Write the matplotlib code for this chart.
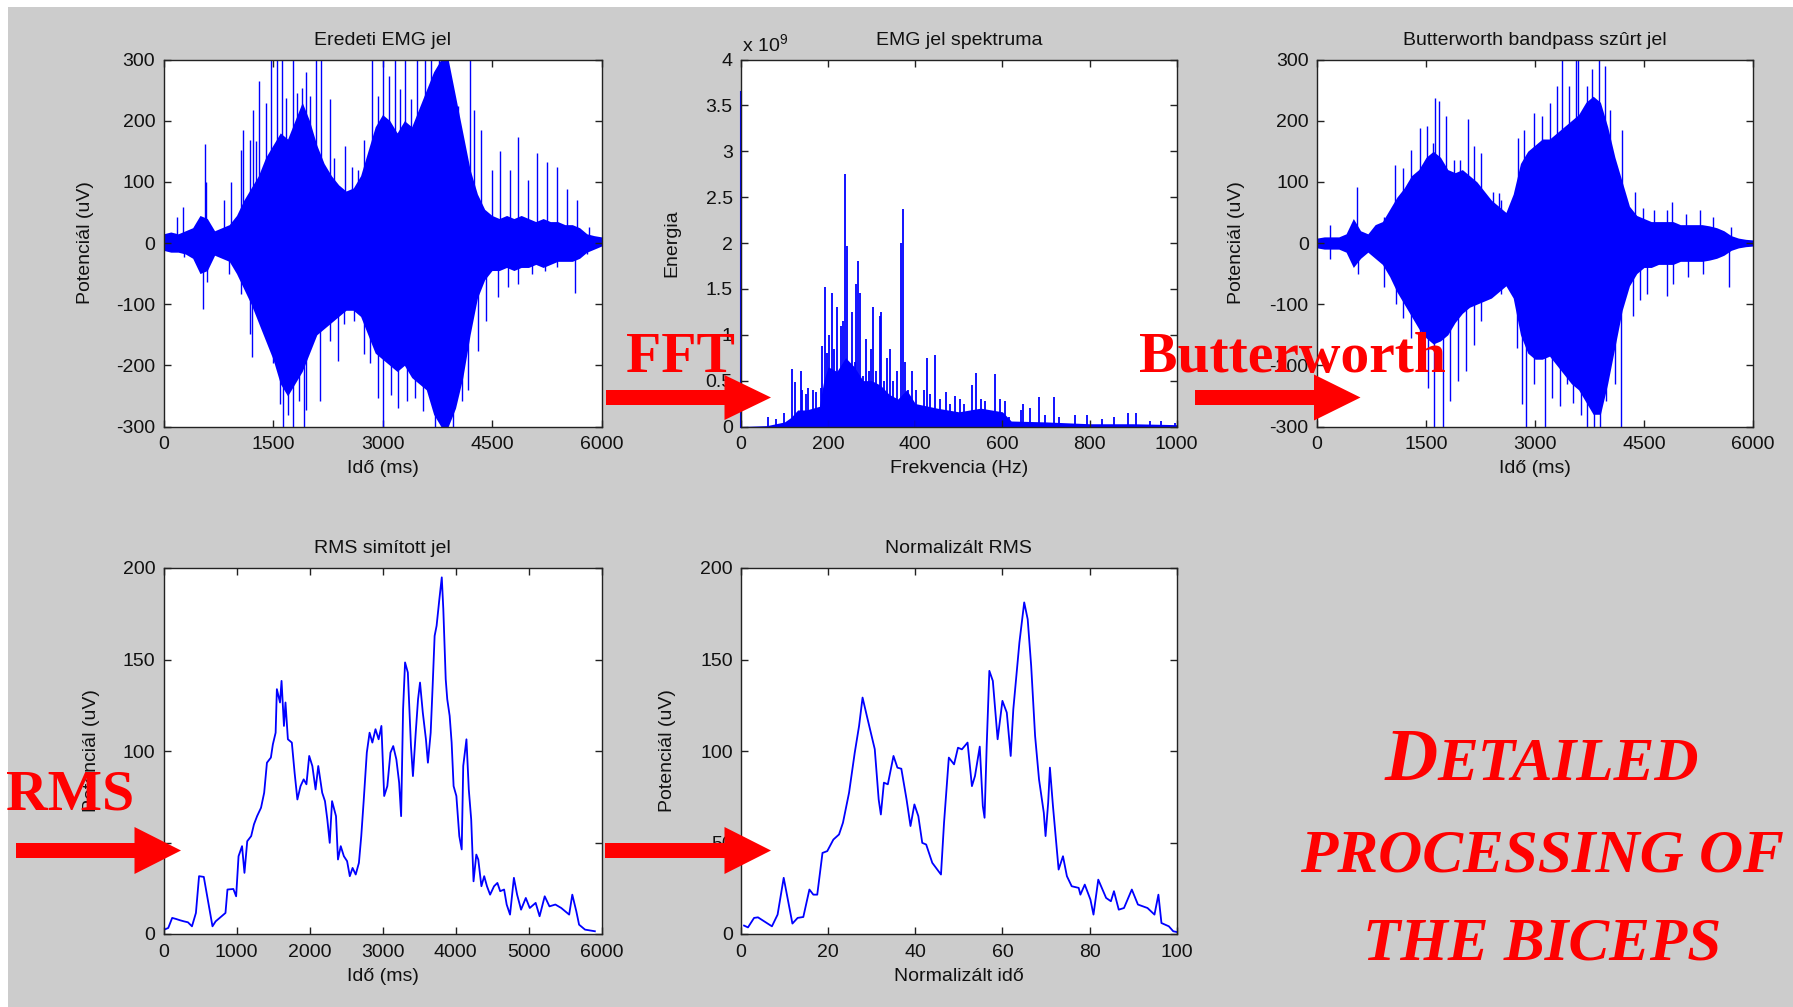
import matplotlib
matplotlib.use("Agg")
import matplotlib.pyplot as plt
from matplotlib.patches import Rectangle, Polygon
from matplotlib import font_manager
from matplotlib.ticker import FuncFormatter

# ---------------- DATA ----------------
# Raw EMG (Eredeti EMG jel): dense core envelope every 100 ms + individual spikes
emg_core_t = list(range(0, 6001, 100))
tl_core_hi = [15, 18, 15, 20, 25, 45, 40, 20, 25, 30, 45, 70, 90, 110, 140, 160, 180, 170, 200, 230,
              200, 160, 130, 110, 95, 85, 90, 110, 150, 190, 210, 200, 180, 200, 190, 220, 250, 280,
              300, 300, 240, 180, 120, 80, 55, 45, 40, 45, 40, 45, 40, 35, 40, 35, 35, 30, 30, 25,
              15, 12, 10]
tl_core_lo = [-12, -15, -15, -18, -25, -50, -45, -20, -25, -30, -50, -75, -100, -130, -160, -190,
              -230, -250, -230, -210, -180, -150, -140, -130, -120, -110, -110, -120, -150, -180,
              -190, -200, -210, -200, -220, -230, -240, -280, -300, -300, -270, -220, -150, -90,
              -60, -45, -45, -40, -45, -40, -40, -35, -40, -35, -30, -30, -30, -25, -15, -10, -5]
tl_spike_t = [184, 265, 563, 579, 822, 920, 1055, 1087, 1185, 1228, 1271, 1315, 1401, 1477, 1553, 1617,
              1672, 1769, 1834, 1904, 1947, 2002, 2094, 2159, 2283, 2337, 2483, 2581, 2662, 2743,
              2851, 2932, 3003, 3095, 3176, 3241, 3311, 3392, 3473, 3581, 3662, 3771, 3879, 4041,
              4193, 4258, 4355, 4501, 4609, 4745, 4853, 4988, 5123, 5258, 5394, 5529, 5664, 5827,
              281, 536, 595, 903, 1066, 1185, 1217, 1336, 1499, 1591, 1634, 1704, 1780, 1850, 1920,
              1958, 2148, 2283, 2391, 2472, 2608, 2743, 2824, 2932, 3003, 3122, 3219, 3338, 3446,
              3554, 3608, 3717, 3825, 3960, 4085, 4177, 4312, 4420, 4582, 4717, 4853, 5042, 5231,
              5394, 5637, 5800]
tl_spike_v = [43, 59, 162, 100, 70, 99, 152, 185, 169, 218, 166, 265, 229, 300, 300, 300,
              237, 300, 246, 254, 279, 240, 300, 300, 235, 139, 158, 125, 120, 169,
              300, 240, 300, 273, 300, 251, 300, 235, 300, 300, 300, 300, 300, 224,
              300, 218, 185, 120, 150, 120, 174, 103, 147, 133, 125, 89, 70, 26,
              -23, -108, -64, -50, -83, -149, -186, -127, -196, -264, -300, -281, -300, -259, -300,
              -273, -259, -160, -193, -133, -127, -182, -196, -253, -300, -248, -270, -259, -253,
              -275, -226, -300, -300, -300, -259, -240, -177, -127, -89, -72, -67, -50, -45,
              -40, -81, -18]

# FFT spectrum (EMG jel spektruma), energy in units of 1e9
fft_dc_f = [0, 0]
fft_dc_e = [0, 3.65]
fft_band_f = [0, 60, 100, 115, 130, 150, 180, 190, 200, 220, 240, 260, 280, 300, 320, 340, 360,
              380, 400, 450, 500, 550, 600, 620, 700, 800, 900, 1000]
fft_band_e = [0, 0.01, 0.05, 0.1, 0.18, 0.18, 0.22, 0.5, 0.65, 0.6, 0.75, 0.65, 0.5, 0.5, 0.45,
              0.35, 0.3, 0.4, 0.25, 0.2, 0.16, 0.2, 0.16, 0.06, 0.05, 0.03, 0.03, 0.02]
fft_peak_f = [62, 80, 98, 118, 123, 137, 141, 150, 154, 166, 173, 183, 187, 193, 198, 202, 210, 214,
              221, 225, 230, 233, 239, 243, 248, 254, 262, 264, 269, 273, 279, 286, 293, 299, 304,
              309, 318, 321, 328, 336, 343, 350, 357, 368, 371, 376, 384, 393, 402, 419, 428, 434,
              446, 457, 470, 480, 491, 502, 511, 530, 540, 550, 561, 582, 595, 607, 616, 643, 648,
              664, 684, 698, 718, 729, 766, 793, 829, 856, 888, 906, 938, 965, 997]
fft_peak_e = [0.1, 0.08, 0.15, 0.63, 0.48, 0.6, 0.4, 0.35, 0.42, 0.4, 0.38, 0.42, 0.88, 1.52, 0.8,
              1.0, 1.45, 0.85, 1.3, 0.6, 1.1, 1.15, 2.75, 1.97, 0.65, 1.25, 0.7, 1.55, 1.8, 1.45,
              0.55, 0.95, 0.6, 0.85, 1.3, 0.6, 1.2, 1.25, 0.5, 0.75, 0.85, 0.5, 0.6, 2.0, 2.37,
              0.7, 0.4, 0.6, 0.4, 0.4, 0.75, 0.35, 0.78, 0.3, 0.38, 0.25, 0.33, 0.3, 0.25, 0.45,
              0.58, 0.3, 0.28, 0.57, 0.3, 0.28, 0.1, 0.18, 0.25, 0.2, 0.32, 0.12, 0.32, 0.1, 0.12,
              0.12, 0.08, 0.1, 0.15, 0.15, 0.06, 0.06, 0.04]

# Butterworth bandpass filtered signal: core envelope every 100 ms + spikes
tr_core_hi = [8, 10, 10, 10, 15, 40, 20, 15, 30, 35, 55, 75, 90, 110, 120, 140, 150, 140, 120, 115,
              120, 110, 100, 85, 70, 60, 50, 80, 130, 150, 160, 170, 170, 180, 190, 200, 210, 230,
              240, 230, 190, 140, 100, 60, 45, 40, 35, 35, 35, 35, 30, 30, 30, 30, 28, 25, 20, 12,
              8, 6, 5]
tr_core_lo = [-8, -10, -10, -10, -15, -40, -25, -15, -25, -35, -55, -80, -100, -120, -140, -155,
              -165, -160, -150, -130, -115, -105, -100, -95, -90, -80, -70, -90, -150, -180, -190,
              -190, -185, -200, -215, -230, -240, -260, -280, -280, -230, -170, -110, -70, -50,
              -40, -40, -35, -35, -35, -30, -30, -30, -30, -28, -25, -20, -12, -8, -6, -5]
tr_spike_t = [177, 547, 922, 1072, 1180, 1298, 1416, 1512, 1593, 1619, 1673, 1780, 1887, 1968, 2075,
              2166, 2252, 2424, 2504, 2531, 2772, 2853, 2987, 3094, 3201, 3308, 3378, 3469, 3560,
              3592, 3710, 3791, 3882, 3968, 4032, 4193, 4381, 4488, 4633, 4810, 4890, 5078, 5276,
              5453, 5694,
              182, 558, 922, 1083, 1180, 1298, 1416, 1523, 1609, 1737, 1834, 1941, 2048, 2156, 2263,
              2381, 2531, 2756, 2826, 2879, 2987, 3131, 3228, 3346, 3442, 3523, 3630, 3721, 3818,
              3898, 3979, 4097, 4182, 4354, 4450, 4542, 4810, 4901, 5105, 5308, 5668]
tr_spike_v = [29, 92, 43, 128, 122, 152, 188, 191, 163, 237, 232, 207, 136, 136, 202,
              158, 147, 84, 81, 70, 172, 185, 213, 207, 229, 257, 300, 257, 300,
              300, 257, 284, 300, 290, 218, 185, 84, 57, 54, 54, 67, 48, 54,
              43, 26,
              -26, -50, -72, -100, -122, -155, -188, -237, -300, -300, -259, -226, -210, -166, -127,
              -89, -83, -171, -264, -300, -231, -300, -253, -267, -231, -262, -281, -300, -300,
              -300, -259, -231, -300, -119, -94, -83, -86, -67, -56, -50, -72]

# RMS smoothed signal (ms, uV)
rms_t = [11, 65, 119, 173, 227, 281, 335, 390, 444, 487, 552, 606, 671, 714, 795, 849, 876, 957, 995,
         1028, 1076, 1109, 1147, 1201, 1239, 1282, 1336, 1379, 1417, 1471, 1498, 1536, 1553, 1596,
         1617, 1650, 1671, 1704, 1758, 1796, 1834, 1877, 1920, 1958, 1996, 2039, 2083, 2120, 2174,
         2212, 2244, 2277, 2309, 2363, 2390, 2428, 2471, 2515, 2552, 2590, 2633, 2677, 2709, 2742,
         2785, 2823, 2861, 2904, 2947, 2985, 3023, 3066, 3109, 3147, 3190, 3228, 3255, 3282, 3309,
         3347, 3390, 3417, 3455, 3487, 3514, 3552, 3595, 3622, 3660, 3687, 3714, 3741, 3779, 3812,
         3833, 3866, 3887, 3920, 3947, 3974, 4012, 4052, 4085, 4106, 4150, 4182, 4215, 4247, 4285,
         4312, 4355, 4393, 4431, 4474, 4528, 4574, 4612, 4666, 4701, 4747, 4800, 4844, 4898, 4963,
         5017, 5098, 5152, 5222, 5287, 5368, 5449, 5557, 5600, 5655, 5693, 5774, 5909]
rms_v = [2.4, 3.3, 8.8, 8.2, 7.5, 6.9, 6.4, 4.2, 11.5, 31.6, 31.2, 18.8, 4.2, 6.9, 9.7, 11.5, 24.3,
         24.6, 20.6, 42.5, 48, 33.4, 50.7, 53.5, 59.9, 64.4, 69, 77.2, 93.6, 96.4, 103.6, 110, 133.8,
         126.5, 138.3, 113.7, 126.5, 106.4, 104.6, 88.1, 73.5, 80.8, 84.5, 81.8, 97.3, 91.8, 79,
         91.8, 77.2, 72.6, 62.6, 49.8, 72.6, 64.4, 40.7, 48, 42.5, 39.8, 31.6, 36.1, 32.5, 38.9,
         53.5, 72.6, 99.1, 110, 104.6, 111.9, 106.4, 113.7, 75.4, 80.8, 99.1, 102.7, 95.4, 82.7,
         64.4, 122.8, 148.4, 142.9, 102.7, 86.3, 110, 128.3, 137.4, 121, 106.4, 93.6, 110, 135.6,
         162.9, 168.4, 183, 194.9, 177.6, 139.2, 128.3, 119.2, 104.6, 80.8, 75.4, 53.5, 46.2, 91.8,
         106.4, 79, 62.6, 28.8, 43.4, 40.7, 26.1, 31.6, 26.1, 21.5, 26.1, 27.9, 23.4, 24.3, 16.1,
         10.6, 30.7, 21.5, 13.3, 19.7, 14.2, 17, 9.7, 20.6, 15.1, 16.1, 14.2, 10.6, 21.5, 12.4,
         5.1, 2.4, 1.5]

# Normalized RMS (normalized time 0-100, uV)
nrms_x = [0.7, 1.6, 3, 3.9, 7.1, 8.4, 9.8, 11.8, 13, 14.3, 15.7, 16.6, 17.5, 18.7, 19.8, 21.2, 22.5,
          23.4, 24.8, 26.1, 27.1, 27.9, 28.9, 30.7, 31.6, 32.1, 32.8, 33.7, 35, 35.9, 36.8, 38,
          38.9, 39.8, 40.7, 41.6, 42.5, 43.9, 45.9, 46.6, 47.7, 48.9, 49.8, 50.7, 52, 53, 53.7,
          54.8, 55.5, 55.9, 56.4, 57, 57.8, 58.9, 60, 61, 61.9, 62.5, 63.9, 65, 65.8, 66.6, 67.5,
          68.4, 69.5, 69.9, 70.5, 70.9, 71.6, 72.9, 73.9, 74.8, 75.9, 77.5, 77.9, 78.9, 80.2,
          80.9, 82, 83.8, 84.9, 85.6, 86.7, 87.9, 89.7, 91.1, 93.3, 94.9, 95.8, 96.5, 98.2, 99.2, 100]
nrms_v = [4.6, 3.6, 8.8, 9.1, 4.2, 10.6, 30.7, 5.7, 8.8, 9.3, 24.3, 21.5, 21.5, 44.3, 45.3, 51.6,
          54.4, 60.8, 77.2, 99, 113.7, 129.2, 119, 101, 73.5, 65.3, 82.7, 81.8, 97.3, 90.9, 90.3,
          73.5, 59, 70.8, 64.4, 49.8, 48.9, 38.9, 32.5, 60.8, 96.4, 92.7, 101.8, 100.9, 104.6,
          80.8, 86.3, 102.4, 69.9, 63.5, 103.6, 143.8, 138.3, 106.4, 127.4, 121, 97.3, 122.8,
          159.3, 181.2, 172, 146.5, 108.2, 84.5, 66.2, 53.5, 71.7, 90.9, 69.9, 35.2, 42.5, 31.6,
          26.1, 25.2, 21.5, 27, 18.8, 10.6, 29.7, 19.7, 17.9, 23.4, 13.3, 14.2, 24.3, 16.1, 14.2,
          10.6, 21.5, 6, 4.2, 1.5, 1.1]

titles = ["Eredeti EMG jel", "EMG jel spektruma", "Butterworth bandpass szûrt jel",
          "RMS simított jel", "Normalizált RMS"]
xlabels = ["Idő (ms)", "Frekvencia (Hz)", "Idő (ms)", "Idő (ms)", "Normalizált idő"]
ylabels = ["Potenciál (uV)", "Energia", "Potenciál (uV)", "Potenciál (uV)", "Potenciál (uV)"]
emg_xticks = [0, 1500, 3000, 4500, 6000]
emg_yticks = [-300, -200, -100, 0, 100, 200, 300]
fft_xticks = [0, 200, 400, 600, 800, 1000]
fft_yticks = [0, 0.5, 1, 1.5, 2, 2.5, 3, 3.5, 4]
rms_xticks = [0, 1000, 2000, 3000, 4000, 5000, 6000]
nrms_xticks = [0, 20, 40, 60, 80, 100]
rms_yticks = [0, 50, 100, 150, 200]

# ---------------- FONTS ----------------
avail = {f.name for f in font_manager.fontManager.ttflist}
sans = "Liberation Sans" if "Liberation Sans" in avail else "DejaVu Sans"
serif = "Liberation Serif" if "Liberation Serif" in avail else "DejaVu Serif"
plt.rcParams["font.family"] = [sans, "DejaVu Sans"]
plt.rcParams["mathtext.default"] = "regular"
plt.rcParams["axes.unicode_minus"] = False

W, H = 1793, 1007
fig = plt.figure(figsize=(W / 100, H / 100), dpi=100, facecolor="white")
fig.patches.append(Rectangle((8 / W, 0), (W - 8) / W, (H - 7) / H, transform=fig.transFigure,
                             facecolor="#cccccc", edgecolor="none", zorder=-10))

BLUE = "#0000ff"
FS = 14


def add_axes(x0, y0, x1, y1):
    return fig.add_axes([x0 / W, 1 - y1 / H, (x1 - x0) / W, (y1 - y0) / H])


def style(ax, title, xl, yl, ylx):
    ax.set_facecolor("white")
    for s in ax.spines.values():
        s.set_linewidth(1.0)
        s.set_color("#222222")
    ax.tick_params(direction="in", length=5, width=1, top=True, right=True,
                   labelsize=FS, colors="#222222", labelcolor="#111111")
    ax.tick_params(axis="x", pad=7)
    ax.tick_params(axis="y", pad=6)
    ax.set_title(title, fontsize=FS, pad=10.5, color="#111111")
    ax.set_xlabel(xl, fontsize=FS, labelpad=5, color="#111111")
    ax.set_ylabel(yl, fontsize=FS, color="#111111")
    ax.yaxis.set_label_coords(ylx, 0.5)


TOP = (59.5, 426.5)
BOT = (568, 934)
COLS = [(163.5, 601.5), (741, 1176.7), (1317, 1753)]

# Raw EMG
ax1 = add_axes(COLS[0][0], TOP[0], COLS[0][1], TOP[1])
ax1.fill_between(emg_core_t, tl_core_lo, tl_core_hi, color=BLUE, lw=0)
ax1.vlines(tl_spike_t, 0, tl_spike_v, color=BLUE, lw=1.0)
ax1.set_xlim(0, 6000); ax1.set_ylim(-300, 300)
ax1.set_xticks(emg_xticks); ax1.set_yticks(emg_yticks)
style(ax1, titles[0], xlabels[0], ylabels[0], -0.159)

# FFT
ax2 = add_axes(COLS[1][0], TOP[0], COLS[1][1], TOP[1])
ax2.fill_between(fft_band_f, 0, fft_band_e, color=BLUE, lw=0)
ax2.vlines(fft_peak_f, 0, fft_peak_e, color=BLUE, lw=1.3)
ax2.plot(fft_dc_f, fft_dc_e, color=BLUE, lw=1.5, clip_on=False)
ax2.set_xlim(0, 1000); ax2.set_ylim(0, 4)
ax2.set_xticks(fft_xticks); ax2.set_yticks(fft_yticks)
ax2.yaxis.set_major_formatter(FuncFormatter(lambda v, p: "%g" % v))
style(ax2, titles[1], xlabels[1], ylabels[1], -0.14)
fig.text(742 / W, 1 - 51 / H, "x 10$^{9}$", fontsize=FS, color="#111111", ha="left", va="baseline")

# Butterworth
ax3 = add_axes(COLS[2][0], TOP[0], COLS[2][1], TOP[1])
ax3.fill_between(emg_core_t, tr_core_lo, tr_core_hi, color=BLUE, lw=0)
ax3.vlines(tr_spike_t, 0, tr_spike_v, color=BLUE, lw=1.0)
ax3.set_xlim(0, 6000); ax3.set_ylim(-300, 300)
ax3.set_xticks(emg_xticks); ax3.set_yticks(emg_yticks)
style(ax3, titles[2], xlabels[2], ylabels[2], -0.165)

# RMS
ax4 = add_axes(COLS[0][0], BOT[0], COLS[0][1], BOT[1])
ax4.plot(rms_t, rms_v, color=BLUE, lw=1.3)
ax4.set_xlim(0, 6000); ax4.set_ylim(0, 200)
ax4.set_xticks(rms_xticks); ax4.set_yticks(rms_yticks)
style(ax4, titles[3], xlabels[3], ylabels[3], -0.146)

# Normalized RMS
ax5 = add_axes(COLS[1][0], BOT[0], COLS[1][1], BOT[1])
ax5.plot(nrms_x, nrms_v, color=BLUE, lw=1.3)
ax5.set_xlim(0, 100); ax5.set_ylim(0, 200)
ax5.set_xticks(nrms_xticks); ax5.set_yticks(rms_yticks)
style(ax5, titles[4], xlabels[4], ylabels[4], -0.15)

# ---------------- Red annotations ----------------
RED = "#ff0000"


def arrow(x0, x1, xb, yc, h1, h2):
    pts = [(x0, yc - h1), (xb, yc - h1), (xb, yc - h2), (x1, yc), (xb, yc + h2), (xb, yc + h1),
           (x0, yc + h1)]
    pts = [(x / W, 1 - y / H) for x, y in pts]
    fig.patches.append(Polygon(pts, closed=True, transform=fig.transFigure, facecolor=RED,
                               edgecolor="none", zorder=20))


arrow(606, 771, 724.5, 397.5, 7.5, 22.5)
arrow(1195, 1360.5, 1314, 397.5, 7.5, 23)
arrow(16, 181, 134.5, 850.5, 7.5, 23.5)
arrow(605, 771, 724.5, 850.5, 7.5, 23.5)

red_kw = dict(color=RED, fontsize=41.5, fontweight="bold", family=serif, ha="left",
              va="baseline", zorder=21)
fig.text(626 / W, 1 - 372 / H, "FFT", **red_kw)
fig.text(1139 / W, 1 - 372 / H, "Butterworth", **red_kw)
fig.text(6 / W, 1 - 810 / H, "RMS", **red_kw)

big_kw = dict(color=RED, fontweight="bold", style="italic", family=serif, va="baseline", zorder=21)
CX = 1542
tD = fig.text(CX / W, 1 - 780 / H, "D", fontsize=53, ha="right", **big_kw)
tE = fig.text(CX / W, 1 - 780 / H, "ETAILED", fontsize=44, ha="left", **big_kw)
fig.text(CX / W, 1 - 871 / H, "PROCESSING OF", fontsize=44, ha="center", **big_kw)
fig.text(CX / W, 1 - 960 / H, "THE BICEPS", fontsize=44, ha="center", **big_kw)

fig.canvas.draw()
r = fig.canvas.get_renderer()
wD = tD.get_window_extent(r).width
wE = tE.get_window_extent(r).width
join = CX - (wD + wE) / 2 + wD
tD.set_x(join / W)
tE.set_x(join / W)

fig.savefig("out.png", dpi=100, facecolor=fig.get_facecolor())
